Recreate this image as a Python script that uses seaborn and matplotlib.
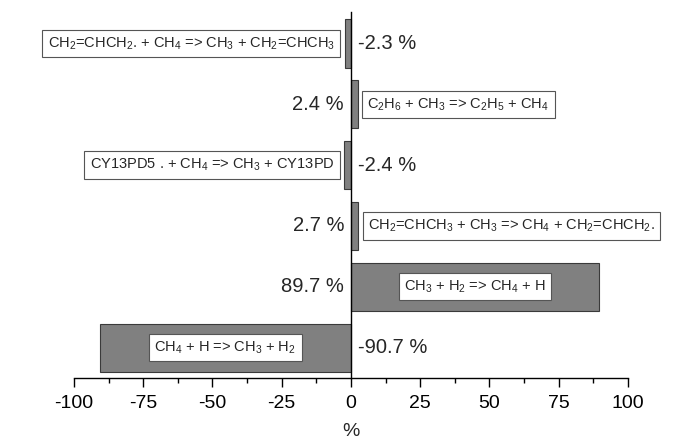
import matplotlib
matplotlib.use("Agg")
import matplotlib.pyplot as plt
import numpy as np
import pandas as pd
import seaborn as sns
from matplotlib.ticker import MultipleLocator


REACTIONS = [
    r"CH$_2$=CHCH$_2$. + CH$_4$ => CH$_3$ + CH$_2$=CHCH$_3$",
    r"C$_2$H$_6$ + CH$_3$ => C$_2$H$_5$ + CH$_4$",
    r"CY13PD5 . + CH$_4$ => CH$_3$ + CY13PD",
    r"CH$_2$=CHCH$_3$ + CH$_3$ => CH$_4$ + CH$_2$=CHCH$_2$.",
    r"CH$_3$ + H$_2$ => CH$_4$ + H",
    r"CH$_4$ + H => CH$_3$ + H$_2$",
]
CONTRIB = [-2.3, 2.4, -2.4, 2.7, 89.7, -90.7]
XTICKS = [-100, -75, -50, -25, 0, 25, 50, 75, 100]


def main():
    sns.set_style("ticks")
    plt.rcParams["font.family"] = ["Liberation Sans", "DejaVu Sans"]
    plt.rcParams["mathtext.default"] = "regular"

    df = pd.DataFrame({"reaction": REACTIONS, "contrib": CONTRIB})

    fig = plt.figure(figsize=(6.75, 4.4), dpi=100)
    ax = fig.add_axes([0.1096, 0.141, 0.8207, 0.832])

    sns.barplot(
        data=df,
        x="contrib",
        y="reaction",
        orient="h",
        color="#808080",
        edgecolor="#3a3a3a",
        linewidth=0.8,
        width=0.79,
        saturation=1,
        ax=ax,
    )

    ax.set_xlim(-100, 100)
    ax.set_ylim(len(CONTRIB) - 0.5, -0.52)
    ax.set_xticks(XTICKS)
    ax.set_xticklabels([str(t) for t in XTICKS], fontsize=14)
    ax.xaxis.set_minor_locator(MultipleLocator(12.5))
    ax.tick_params(axis="x", which="major", length=6.5, width=1, pad=6,
                   direction="out", colors="black")
    ax.tick_params(axis="x", which="minor", length=3.5, width=1, direction="out", colors="black")
    ax.tick_params(axis="y", left=False, labelleft=False)
    ax.set_ylabel("")
    ax.set_xlabel("%", fontsize=14, labelpad=8)

    for side in ["top", "right"]:
        ax.spines[side].set_visible(False)
    ax.spines["left"].set_position(("data", 0))
    ax.spines["left"].set_zorder(5)
    for side in ["left", "bottom"]:
        ax.spines[side].set_linewidth(1.0)
        ax.spines[side].set_color("black")

    box = dict(boxstyle="square,pad=0.38", facecolor="white", edgecolor="#555555", linewidth=0.8)
    for i, v in enumerate(CONTRIB):
        # value label on the opposite side of zero
        if v < 0:
            ax.annotate(f"{v:.1f} %", xy=(0, i), xytext=(5, 0), textcoords="offset points",
                        ha="left", va="center", fontsize=14.5)
        else:
            ax.annotate(f"{v:.1f} %", xy=(0, i), xytext=(-5, 0), textcoords="offset points",
                        ha="right", va="center", fontsize=14.5)

        # reaction label box
        if abs(v) > 10:
            ax.annotate(REACTIONS[i], xy=(v / 2, i), ha="center", va="center",
                        fontsize=10.5, bbox=box, annotation_clip=False)
        elif v < 0:
            ax.annotate(REACTIONS[i], xy=(v, i), xytext=(-7, 0), textcoords="offset points",
                        ha="right", va="center", fontsize=10.5, bbox=box, annotation_clip=False)
        else:
            ax.annotate(REACTIONS[i], xy=(v, i), xytext=(7, 0), textcoords="offset points",
                        ha="left", va="center", fontsize=10.5, bbox=box, annotation_clip=False)

    fig.savefig("out.png", dpi=100)
    plt.close(fig)


if __name__ == "__main__":
    main()
